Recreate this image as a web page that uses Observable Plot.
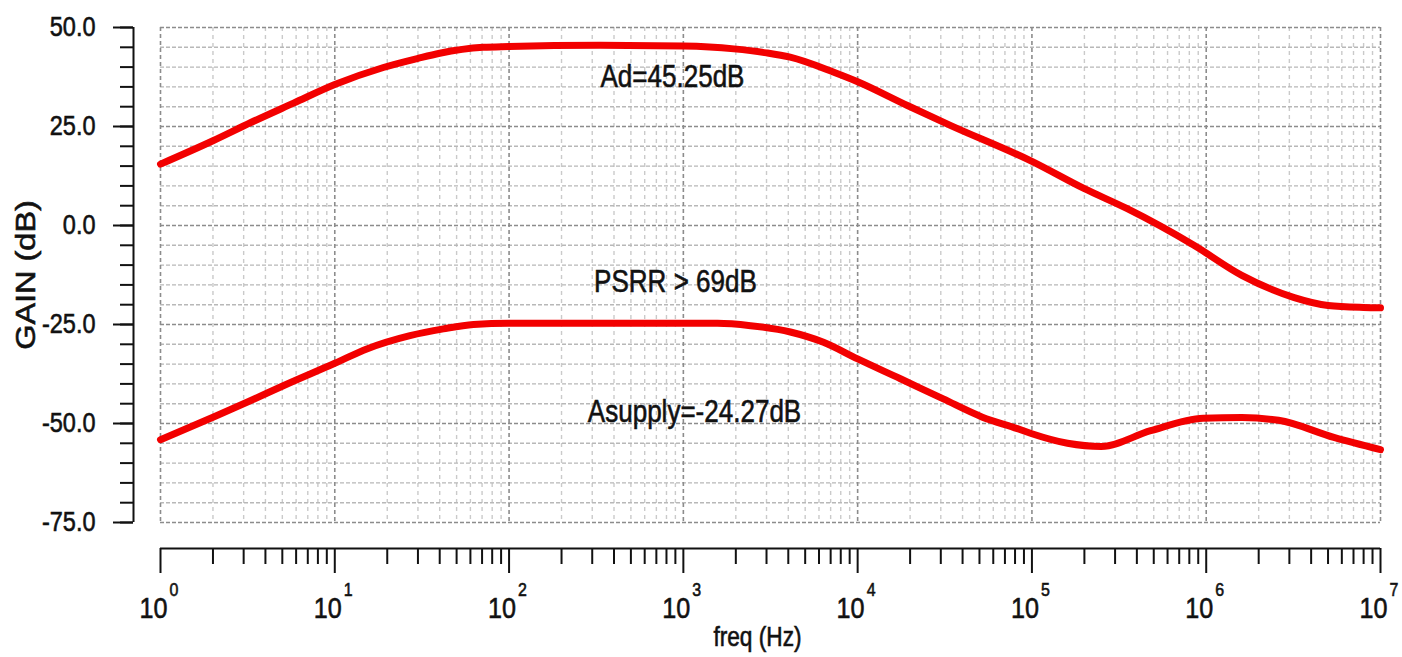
<!DOCTYPE html>
<html>
<head>
<meta charset="utf-8">
<script src="https://cdn.jsdelivr.net/npm/d3@7"></script>
<script src="https://cdn.jsdelivr.net/npm/@observablehq/plot@0.6"></script>
<style>
  html, body { margin: 0; padding: 0; background: #ffffff; }
</style>
</head>
<body>
<div id="chart"></div>
<script>
// ---- Data ----
// Differential gain Ad (dB) vs frequency (Hz)
const adFreq = [1, 2, 3.3, 5.8, 10, 19, 30, 40, 71, 100, 330, 1000, 1950, 3000, 4100, 7300, 10000, 19300, 34000, 100000, 200000, 350000, 850000, 1600000, 3200000, 5000000, 8000000, 10000000];
const adGain = [15.5, 21.4, 26.0, 30.9, 35.6, 39.9, 42.2, 43.5, 45.0, 45.2, 45.5, 45.3, 44.6, 43.6, 42.5, 38.7, 36.3, 30.3, 25.3, 16.2, 9.3, 4.3, -5.0, -12.6, -18.2, -20.2, -20.7, -20.8];

// Supply gain Asupply (dB) vs frequency (Hz)
const asFreq = [1, 2, 3.3, 5.1, 10, 15.4, 27, 42, 62.5, 100, 172, 650, 1570, 2430, 4110, 6370, 10000, 17600, 31000, 52000, 82600, 100000, 160000, 250000, 480000, 960000, 1600000, 2600000, 5400000, 10000000];
const asGain = [-54.1, -48.4, -44.2, -40.4, -34.8, -31.1, -27.8, -26.1, -25.0, -24.7, -24.7, -24.7, -24.7, -25.3, -26.9, -29.5, -33.7, -38.7, -43.8, -48.4, -51.3, -52.6, -55.0, -55.8, -51.8, -48.7, -48.5, -49.2, -53.5, -56.6];

// Axis ticks
const decades = [1, 10, 100, 1000, 10000, 100000, 1000000, 10000000];
const decadeExponents = ["0", "1", "2", "3", "4", "5", "6", "7"];
const minorMultipliers = [2, 3, 4, 5, 6, 7, 8, 9];
const yMajorTicks = [50, 25, 0, -25, -50, -75];
const yMinorTicks = [50, 45, 40, 35, 30, 25, 20, 15, 10, 5, 0, -5, -10, -15, -20, -25, -30, -35, -40, -45, -50, -55, -60, -65, -70, -75];

// Annotations (text, anchor frequency, anchor gain)
const annotationText = ["Ad=45.25dB", "PSRR > 69dB", "Asupply=-24.27dB"];
const annotationFreq = [866, 901, 1159];
const annotationGain = [37.6, -14.4, -47.1];

// ---- Derived tables ----
const adData = adFreq.map((f, i) => ({f, g: adGain[i]}));
const asData = asFreq.map((f, i) => ({f, g: asGain[i]}));
const minorFreqs = decades.slice(0, -1).flatMap(d => minorMultipliers.map(m => d * m));
const annotations = annotationText.map((t, i) => ({t, f: annotationFreq[i], g: annotationGain[i]}));
const yMid = yMinorTicks.filter(v => !yMajorTicks.includes(v));

const FONT = '"Liberation Sans", Arial, Helvetica, sans-serif';
const RED = "#f20000";

const chart = Plot.plot({
  width: 1402,
  height: 657,
  marginLeft: 160,
  marginRight: 22,
  marginTop: 27,
  marginBottom: 135,
  x: {type: "log", domain: [1, 1e7]},
  y: {domain: [-75, 50]},
  style: {fontFamily: FONT, fontSize: "28px", color: "#111", background: "#ffffff", overflow: "visible"},
  marks: [
    // grid
    Plot.gridX(minorFreqs, {stroke: "#cacaca", strokeOpacity: 1, strokeWidth: 1.4, strokeDasharray: "4,4"}),
    Plot.gridY(yMid, {stroke: "#b8b8b8", strokeOpacity: 1, strokeWidth: 1.4, strokeDasharray: "4,2"}),
    Plot.gridX(decades, {stroke: "#8c8c8c", strokeOpacity: 1, strokeWidth: 1.6, strokeDasharray: "4,3"}),
    Plot.gridY(yMajorTicks, {stroke: "#8c8c8c", strokeOpacity: 1, strokeWidth: 1.6, strokeDasharray: "4,2"}),

    // y axis (offset to the left of the frame)
    Plot.ruleX([1], {y1: -75, y2: 50, dx: -27, stroke: "#111", strokeWidth: 2}),
    Plot.axisY(yMinorTicks, {tickSize: 13, tickFormat: () => "", dx: -27, stroke: "#111", strokeWidth: 2, label: null}),
    Plot.axisY(yMajorTicks, {tickSize: 20, tickPadding: 18, tickFormat: d => d.toFixed(1), dx: -27, stroke: "#111", strokeWidth: 2, fontSize: 28, label: null}),

    // x axis (offset below the frame)
    Plot.ruleY([-75], {dy: 26, stroke: "#111", strokeWidth: 2}),
    Plot.axisX(minorFreqs, {tickSize: 16, tickFormat: () => "", dy: 26, stroke: "#111", strokeWidth: 2, label: null}),
    Plot.axisX(decades, {tickSize: 25, tickFormat: () => "", dy: 26, stroke: "#111", strokeWidth: 2, label: null}),
    Plot.text(decades, {x: d => d, y: -75, text: () => "10", dx: 7, dy: 95, textAnchor: "end", lineAnchor: "bottom", fontSize: 30, fill: "#111"}),
    Plot.text(decades, {x: d => d, y: -75, text: (d, i) => decadeExponents[i], dx: 9, dy: 73, textAnchor: "start", lineAnchor: "bottom", fontSize: 19, fill: "#111"}),

    // axis titles
    Plot.text(["freq (Hz)"], {frameAnchor: "bottom", dx: -13, dy: 115, lineAnchor: "middle", fontSize: 27, fill: "#111"}),
    Plot.text(["GAIN (dB)"], {frameAnchor: "left", dx: -134, rotate: -90, lineAnchor: "middle", textAnchor: "middle", fontSize: 28, fill: "#111"}),

    // curves
    Plot.line(adData, {x: "f", y: "g", stroke: RED, strokeWidth: 7, curve: "monotone-x", strokeLinecap: "round", strokeLinejoin: "round"}),
    Plot.line(asData, {x: "f", y: "g", stroke: RED, strokeWidth: 7, curve: "monotone-x", strokeLinecap: "round", strokeLinejoin: "round"}),

    // annotations
    Plot.text(annotations, {x: "f", y: "g", text: "t", textAnchor: "middle", lineAnchor: "middle", fontSize: 31, fill: "#111"})
  ]
});

// Narrow the horizontal glyphs (the reference font is condensed), stretch the rotated title,
// and thicken all strokes of text slightly like the reference rendering.
chart.querySelectorAll("text").forEach(t => {
  const isYLabel = t.textContent.trim() === "GAIN (dB)";
  const sx = isYLabel ? 1.16 : 0.84;
  const tr = t.getAttribute("transform");
  if (tr) {
    t.setAttribute("transform", tr + ` scale(${sx},1)`);
  } else {
    const x = parseFloat(t.getAttribute("x")) || 0;
    t.setAttribute("transform", `translate(${x},0) scale(${sx},1) translate(${-x},0)`);
  }
  t.style.stroke = "#111";
  t.style.strokeWidth = "0.6px";
  t.style.paintOrder = "stroke";
});

document.getElementById("chart").appendChild(chart);
</script>
</body>
</html>
